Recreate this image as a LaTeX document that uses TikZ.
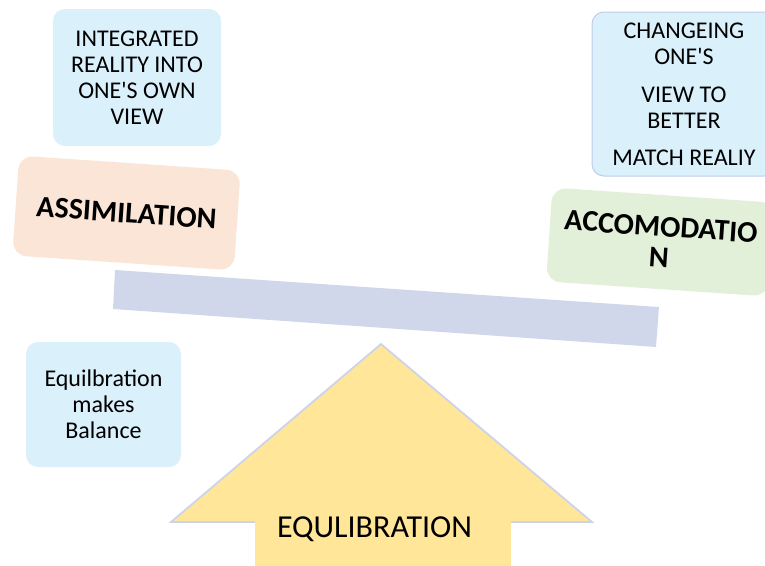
\documentclass[tikz,border=0pt]{standalone}
\usepackage{fontspec}
\setmainfont{Carlito}
\definecolor{lblue}{HTML}{DAF0FB}
\definecolor{peach}{HTML}{FBE5D6}
\definecolor{lgreen}{HTML}{E2F0D9}
\definecolor{beam}{HTML}{D0D7EA}
\definecolor{tri}{HTML}{FFE699}
\definecolor{triedge}{HTML}{CDD4EA}
\definecolor{boxedge}{HTML}{BFCDE8}
\tikzset{
  note/.style={fill=lblue, rounded corners=12pt, align=center, inner sep=0pt,
    font=\fontsize{24}{26}\selectfont},
  concept/.style={rounded corners=14pt, align=center, inner sep=0pt,
    font=\fontsize{30}{31}\selectfont\bfseries, rotate=-3.9},
}
\begin{document}
\begin{tikzpicture}[x=1pt,y=-1pt]
\useasboundingbox (0,0) rectangle (765,565);
% beam
\fill[beam] (115,270) -- (659,307) -- (656,347) -- (113,309) -- cycle;
% triangle fulcrum
\draw[fill=tri, draw=triedge, line width=1.8pt, line join=miter] (171,522) -- (381,344) -- (592,522) -- cycle;
% notes
\node[note, minimum width=168pt, minimum height=137pt] (integ) at (137,77.5)
  {INTEGRATED\\REALITY INTO\\ONE\textquotesingle S OWN\\VIEW};
\node[note, draw=boxedge, line width=1pt, minimum width=184pt, minimum height=164pt] (chang) at (684,94)
  {CHANGEING\\ONE\textquotesingle S\\[12pt]VIEW TO\\BETTER\\[11pt]MATCH REALIY};
\node[note, minimum width=155pt, minimum height=125pt] (equil) at (103.5,404.5)
  {Equilbration\\makes\\Balance};
% concepts
\node[concept, fill=peach, minimum width=222pt, minimum height=100pt] (assim) at (126.5,213) {ASSIMILATION};
\node[concept, fill=lgreen, minimum width=222pt, minimum height=94pt] (accom) at (660,242) {ACCOMODATIO\\N};
% base label
\node[fill=tri, minimum width=256pt, minimum height=70pt, inner sep=0pt, anchor=north west] (base) at (255,498) {};
\node[font=\fontsize{32}{34}\selectfont, inner sep=0pt] (baselbl) at (374.5,529) {EQULIBRATION};
\end{tikzpicture}
\end{document}
